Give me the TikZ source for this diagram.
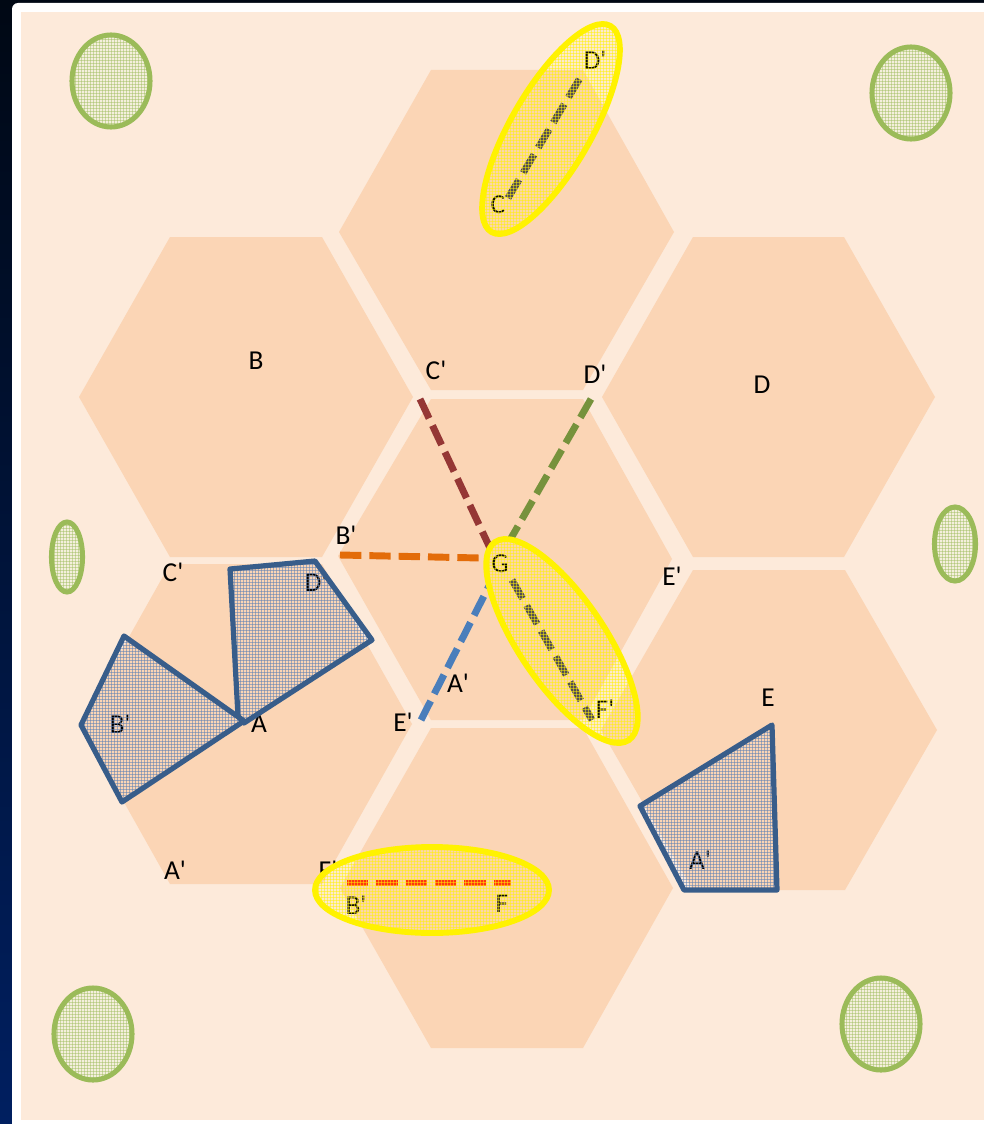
\documentclass[tikz,border=0pt]{standalone}
\usepackage{fontspec}
\newfontfamily\lblfont{Carlito}
\definecolor{peachbg}{HTML}{FDEADA}
\definecolor{hexfill}{HTML}{FBD5B5}
\definecolor{ovalgreen}{HTML}{9BBB59}
\definecolor{ovalfill}{HTML}{F4EFDC}
\definecolor{polyblue}{HTML}{385D8A}
\definecolor{polygrid}{HTML}{5F82B4}
\definecolor{dashred}{HTML}{953735}
\definecolor{dashgreen}{HTML}{76923C}
\definecolor{dashorange}{HTML}{E36C09}
\definecolor{dashblue}{HTML}{4A7EBB}
\definecolor{dashgray}{HTML}{4A4458}
\definecolor{dashfire}{HTML}{FF2A10}
\definecolor{topdark}{HTML}{000814}
\definecolor{botnavy}{HTML}{001F60}
% #1 path options, #2 path, #3 xmin, #4 xmax, #5 ymin, #6 ymax, #7 grid style, #8 outline style
\newcommand{\griddedshape}[8]{%
  \begin{scope}
    \clip[#1] #2;
    \pgfmathtruncatemacro{\gxn}{#3+3}
    \pgfmathtruncatemacro{\gyn}{#5+3}
    \foreach \gx in {#3,\gxn,...,#4}{\draw[#7] (\gx,#5) -- (\gx,#6);}
    \foreach \gy in {#5,\gyn,...,#6}{\draw[#7] (#3,\gy) -- (#4,\gy);}
  \end{scope}
  \draw[#1,#8] #2;}
\tikzset{
  hexagon/.style={fill=hexfill,draw=none},
  greengrid/.style={draw=ovalgreen,line width=0.55pt,draw opacity=0.45},
  greenline/.style={draw=ovalgreen,line width=3.8pt},
  bluegrid/.style={draw=polygrid,line width=0.6pt,draw opacity=0.55},
  blueline/.style={draw=polyblue,line width=3.9pt,line join=round},
  yellowgrid/.style={draw=yellow,line width=0.6pt,draw opacity=0.5},
  yellowline/.style={draw=yellow,line width=4.4pt},
  dashline/.style={line width=5.2pt,dash pattern=on 16pt off 6pt},
  lbl/.style={font=\lblfont\fontsize{20.5pt}{22pt}\selectfont,text=black,inner sep=0pt,anchor=center}
}
\begin{document}
\begin{tikzpicture}[x=0.75pt,y=-0.75pt]
\useasboundingbox (0,0) rectangle (984,1124);
% frame
\shade[top color=topdark,bottom color=botnavy,draw=none] (0,0) rectangle (984,1124);
\fill[white,rounded corners=4.5pt] (12,3) -- (990,3) -- (990,1130) -- (12,1130) -- cycle;
\fill[peachbg] (21,12) rectangle (984,1120);
% hexagons
\fill[hexagon] (431,70)--(583,70)--(674,232)--(583,390)--(431,390)--(339,232)--cycle;
\fill[hexagon] (170,237)--(322,237)--(413,397)--(322,557)--(170,557)--(79,397)--cycle;
\fill[hexagon] (693,237)--(844,237)--(935,397)--(844,557)--(693,557)--(602,397)--cycle;
\fill[hexagon] (431,399)--(583,399)--(672,559)--(583,720)--(431,720)--(338,556)--cycle;
\fill[hexagon] (170,564)--(322,564)--(412,724)--(322,884)--(170,884)--(80,724)--cycle;
\fill[hexagon] (693,570)--(845,570)--(937,730)--(845,890)--(693,890)--(601,730)--cycle;
\fill[hexagon] (431,728)--(583,728)--(673,888)--(583,1048)--(431,1048)--(340,888)--cycle;
% connector ends
\coordinate (c1) at (420,399); \coordinate (c2) at (490,548);
\coordinate (d1) at (591,399); \coordinate (d2) at (510,540);
\coordinate (b1) at (340,555); \coordinate (b2) at (480,558);
\coordinate (a1) at (421,720); \coordinate (a2) at (489,586);
\coordinate (g1) at (512,580); \coordinate (g2) at (592,720);
\coordinate (t1) at (508,198); \coordinate (t2) at (580,78);
\coordinate (f1) at (347,883); \coordinate (f2) at (511,883);
\draw[dashline,dashred] (c1)--(c2);
\draw[dashline,dashgreen] (d1)--(d2);
\draw[dashline,dashorange] (b1)--(b2);
\draw[dashline,dashblue] (a1)--(a2);
\draw[dashline,dashgray] (g1)--(g2);
\draw[dashline,dashgray] (t1)--(t2);
\draw[dashline,dashfire] (f1)--(f2);
% labels
\node[lbl] (n1) at (256,361) {B};
\node[lbl] (n2) at (436,370) {C'};
\node[lbl] (n3) at (595,374) {D'};
\node[lbl] (n4) at (762,385) {D};
\node[lbl] (n5) at (346,535) {B'};
\node[lbl] (n6) at (500,564) {G};
\node[lbl] (n7) at (173,572) {C'};
\node[lbl] (n8) at (316,582) {D'};
\node[lbl] (n9) at (672,576) {E'};
\node[lbl] (n10) at (458,683) {A'};
\node[lbl] (n11) at (403,722) {E'};
\node[lbl] (n12) at (259,724) {A};
\node[lbl] (n13) at (120,724) {B'};
\node[lbl] (n14) at (605,709) {F'};
\node[lbl] (n15) at (768,698) {E};
\node[lbl] (n16) at (700,860) {A'};
\node[lbl] (n17) at (175,870) {A'};
\node[lbl] (n18) at (328,870) {F'};
\node[lbl] (n19) at (356,905) {B'};
\node[lbl] (n20) at (502,904) {F};
\node[lbl] (n21) at (498,205) {C};
\node[lbl] (n22) at (595,60) {D'};
% blue polygons
\griddedshape{}{(230,569)--(315,561)--(372,640)--(244,723)--(238,716)--cycle}{228}{375}{558}{726}{bluegrid}{blueline}
\griddedshape{}{(124,636)--(244,721)--(122,802)--(81,725)--cycle}{78}{247}{633}{804}{bluegrid}{blueline}
\griddedshape{}{(772,725)--(777,890)--(684,890)--(640,806)--cycle}{638}{780}{723}{892}{bluegrid}{blueline}
% green ovals
\fill[ovalfill] (111,81) ellipse (39 and 46);
\griddedshape{}{(111,81) ellipse (39 and 46)}{69}{153}{33}{129}{greengrid}{greenline}
\fill[ovalfill] (911,93) ellipse (39 and 46);
\griddedshape{}{(911,93) ellipse (39 and 46)}{870}{952}{45}{141}{greengrid}{greenline}
\fill[ovalfill] (67,557) ellipse (15.5 and 35);
\griddedshape{}{(67,557) ellipse (15.5 and 35)}{51}{84}{522}{592}{greengrid}{greenline}
\fill[ovalfill] (955,544) ellipse (20.5 and 37);
\griddedshape{}{(955,544) ellipse (20.5 and 37)}{933}{977}{506}{582}{greengrid}{greenline}
\fill[ovalfill] (93,1034) ellipse (39 and 46);
\griddedshape{}{(93,1034) ellipse (39 and 46)}{51}{135}{987}{1081}{greengrid}{greenline}
\fill[ovalfill] (881,1024) ellipse (39 and 46);
\griddedshape{}{(881,1024) ellipse (39 and 46)}{840}{922}{977}{1071}{greengrid}{greenline}
% yellow ovals
\fill[yellow,fill opacity=0.06,shift={(551,129)},rotate=60] (0,0) ellipse (119 and 40);
\griddedshape{shift={(551,129)},rotate=60}{(0,0) ellipse (119 and 40)}{480}{624}{20}{239}{yellowgrid}{yellowline}
\fill[yellow,fill opacity=0.06,shift={(562,641)},rotate=-56] (0,0) ellipse (119.5 and 43);
\griddedshape{shift={(562,641)},rotate=-56}{(0,0) ellipse (119.5 and 43)}{483}{642}{535}{748}{yellowgrid}{yellowline}
\fill[yellow,fill opacity=0.06] (432,890) ellipse (117 and 43);
\griddedshape{}{(432,890) ellipse (117 and 43)}{312}{552}{843}{937}{yellowgrid}{yellowline}
\end{tikzpicture}
\end{document}
